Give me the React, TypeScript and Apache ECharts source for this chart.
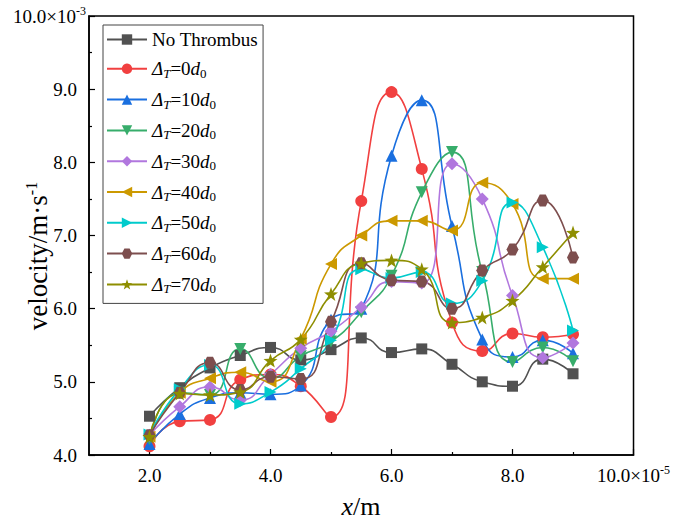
import React, { useEffect, useRef } from "react";
import * as echarts from "echarts";

const xValues = [2.0, 2.5, 3.0, 3.5, 4.0, 4.5, 5.0, 5.5, 6.0, 6.5, 7.0, 7.5, 8.0, 8.5, 9.0];

const noThrombus = [4.53, 4.92, 5.19, 5.36, 5.47, 5.30, 5.44, 5.60, 5.40, 5.45, 5.24, 5.00, 4.94, 5.31, 5.11];
const d0 = [4.12, 4.46, 4.48, 5.03, 5.10, 4.94, 4.52, 7.47, 8.96, 7.91, 5.81, 5.42, 5.66, 5.61, 5.65];
const d10 = [4.15, 4.56, 4.78, 4.85, 4.83, 4.95, 5.85, 6.00, 8.09, 8.85, 7.13, 5.58, 5.34, 5.57, 5.39];
const d20 = [4.22, 4.85, 4.82, 5.45, 5.05, 5.35, 5.55, 5.95, 6.45, 7.59, 8.14, 6.50, 5.27, 5.47, 5.28];
const d30 = [4.27, 4.66, 4.93, 4.75, 5.10, 5.46, 5.69, 6.02, 6.37, 6.35, 7.98, 7.50, 6.18, 5.33, 5.53];
const d40 = [4.25, 4.85, 5.05, 5.13, 5.00, 5.59, 6.61, 7.00, 7.20, 7.20, 7.07, 7.72, 7.43, 6.41, 6.41];
const d50 = [4.28, 4.90, 5.23, 4.70, 4.86, 5.18, 5.57, 6.54, 6.42, 6.50, 6.07, 6.38, 7.45, 6.84, 5.70];
const d60 = [4.27, 4.85, 5.26, 4.89, 5.07, 5.04, 5.82, 6.62, 6.39, 6.37, 6.00, 6.52, 6.81, 7.48, 6.70];
const d70 = [4.25, 4.84, 4.82, 4.86, 5.29, 5.58, 6.20, 6.62, 6.66, 6.54, 5.81, 5.88, 6.11, 6.57, 7.04];

const seriesNames = ["No Thrombus", "ΔT=0d0", "ΔT=10d0", "ΔT=20d0", "ΔT=30d0", "ΔT=40d0", "ΔT=50d0", "ΔT=60d0", "ΔT=70d0"];
const seriesValues = [noThrombus, d0, d10, d20, d30, d40, d50, d60, d70];
const colors = ["#515151", "#F14040", "#1A6FDF", "#37AD6B", "#B177DE", "#CC9900", "#00CBCC", "#7D4E4E", "#8E8E00"];

const xMajorTicks = [2, 4, 6, 8, 10];
const xMinorTicks = [3, 5, 7, 9];

const symbols = [
  "rect",
  "circle",
  "triangle",
  "path://M0,0 L10,0 L5,9 Z",
  "diamond",
  "path://M0,5 L9,0 L9,10 Z",
  "path://M9,5 L0,0 L0,10 Z",
  "path://M2.5,0.67 L7.5,0.67 L10,5 L7.5,9.33 L2.5,9.33 L0,5 Z",
  "path://M5,0 L6.176,3.382 L9.755,3.455 L6.902,5.618 L7.939,9.045 L5,7 L2.061,9.045 L3.098,5.618 L0.245,3.455 L3.824,3.382 Z",
];
const symbolSizes = [11, 12, 12, 12, 13, 12, 12, 12, 14];

const FONT = "'Liberation Serif', 'Times New Roman', serif";

export default function App() {
  const ref = useRef<HTMLDivElement>(null);
  useEffect(() => {
    document.body.style.margin = "0";
    if (!ref.current) return;
    const chart = echarts.init(ref.current, null, { renderer: "svg" });
    const series = seriesNames.map((name, i) => ({
      name,
      type: "line",
      smooth: 0.55,
      data: xValues.map((x, j) => [x, seriesValues[i][j]]),
      symbol: symbols[i],
      symbolSize: symbolSizes[i],
      lineStyle: { width: 1.6, color: colors[i] },
      itemStyle: { color: colors[i] },
      xAxisIndex: 0,
      yAxisIndex: 0,
    }));
    const richLegend = {
      n: { fontFamily: FONT, fontSize: 19, lineHeight: 22, color: "#000" },
      i: { fontFamily: FONT, fontSize: 19, lineHeight: 22, fontStyle: "italic", color: "#000" },
      t: { fontFamily: FONT, fontSize: 13, lineHeight: 10, fontStyle: "italic", verticalAlign: "bottom", color: "#000" },
      z: { fontFamily: FONT, fontSize: 13, lineHeight: 10, verticalAlign: "bottom", color: "#000" },
    };
    const option: any = {
      animation: false,
      backgroundColor: "#fff",
      grid: { left: 89, top: 16, right: 36, bottom: 67, show: true, borderColor: "#000", borderWidth: 1.5 },
      legend: {
        orient: "vertical",
        left: 103,
        top: 25,
        itemWidth: 40,
        itemHeight: 13,
        itemGap: 10.3,
        padding: [5, 5, 8, 3],
        borderColor: "#444",
        borderWidth: 1,
        data: seriesNames,
        textStyle: { fontFamily: FONT, fontSize: 19, color: "#000", rich: richLegend },
        formatter: (name: string) => {
          if (name === "No Thrombus") return "{n|No Thrombus}";
          const k = name.replace("ΔT=", "").replace("d0", "");
          return `{i|Δ}{t|T}{n|=${k}}{i|d}{z|0}`;
        },
      },
      xAxis: [
        {
          type: "value",
          min: 1,
          max: 10,
          interval: 1,
          axisLine: { show: true, lineStyle: { color: "#000", width: 1.5 } },
          axisTick: { show: true, inside: true, length: 6, customValues: xMajorTicks, lineStyle: { color: "#000", width: 1.2 } },
          splitLine: { show: false },
          axisLabel: {
            customValues: xMajorTicks,
            margin: 9,
            fontFamily: FONT,
            fontSize: 19,
            color: "#000",
            formatter: (v: number) => (v === 10 ? "{a|10.0×10}{s|-5}" : `{a|${v.toFixed(1)}}`),
            rich: {
              a: { fontFamily: FONT, fontSize: 19, lineHeight: 22, color: "#000" },
              s: { fontFamily: FONT, fontSize: 12, lineHeight: 12, verticalAlign: "top", color: "#000" },
            },
          },
        },
        {
          type: "value",
          min: 1,
          max: 10,
          interval: 1,
          position: "bottom",
          axisLine: { show: false },
          axisTick: { show: true, inside: true, length: 3, customValues: xMinorTicks, lineStyle: { color: "#000", width: 1.2 } },
          axisLabel: { show: false },
          splitLine: { show: false },
        },
      ],
      yAxis: {
        type: "value",
        min: 4,
        max: 10,
        interval: 1,
        axisLine: { show: true, lineStyle: { color: "#000", width: 1.5 } },
        axisTick: { show: true, inside: true, length: 6, lineStyle: { color: "#000", width: 1.2 } },
        minorTick: { show: true, splitNumber: 2, length: 3, lineStyle: { color: "#000", width: 1.2 } },
        splitLine: { show: false },
        axisLabel: {
          margin: 12,
          fontFamily: FONT,
          fontSize: 19,
          color: "#000",
          formatter: (v: number) => (v === 10 ? "" : v.toFixed(1)),
        },
      },
      graphic: [
        {
          type: "text",
          x: 86,
          y: 16,
          style: {
            text: "{a|10.0×10}{s|-3}",
            align: "right",
            verticalAlign: "middle",
            rich: {
              a: { fontFamily: FONT, fontSize: 19, lineHeight: 22, fill: "#000" },
              s: { fontFamily: FONT, fontSize: 12, lineHeight: 12, verticalAlign: "top", fill: "#000" },
            },
          },
        },
        {
          type: "text",
          x: 38,
          y: 256,
          rotation: Math.PI / 2,
          style: {
            text: "{a|velocity/m·s}{s|-1}",
            align: "center",
            verticalAlign: "middle",
            rich: {
              a: { fontFamily: FONT, fontSize: 27, lineHeight: 30, fill: "#000" },
              s: { fontFamily: FONT, fontSize: 16, lineHeight: 14, verticalAlign: "top", fill: "#000" },
            },
          },
        },
        {
          type: "text",
          x: 361,
          y: 506,
          style: {
            text: "{i|x}{a|/m}",
            align: "center",
            verticalAlign: "middle",
            rich: {
              i: { fontFamily: FONT, fontSize: 26, fontStyle: "italic", fill: "#000" },
              a: { fontFamily: FONT, fontSize: 26, fill: "#000" },
            },
          },
        },
      ],
      series,
    };
    chart.setOption(option);
    return () => chart.dispose();
  }, []);
  return <div ref={ref} style={{ width: 673, height: 522 }} />;
}
